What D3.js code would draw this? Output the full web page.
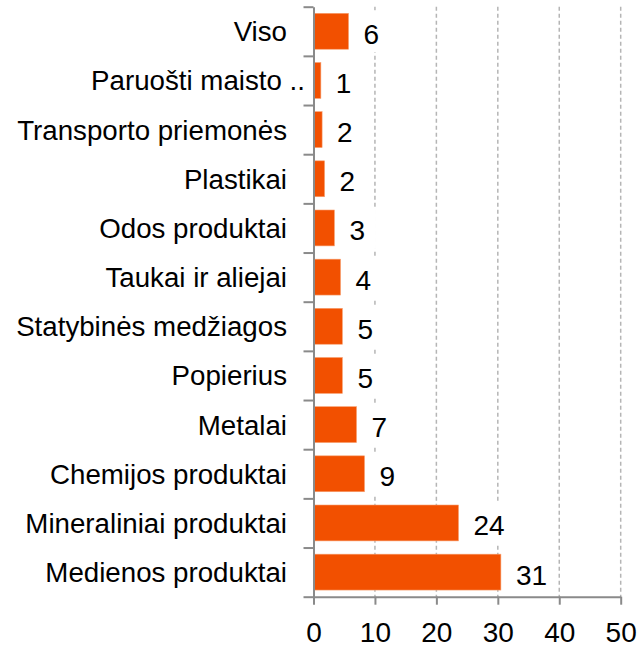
<!DOCTYPE html>
<html>
<head>
<meta charset="utf-8">
<script src="https://cdn.jsdelivr.net/npm/d3@7"></script>
<style>
  html, body { margin: 0; padding: 0; background: #fff; }
  svg { display: block; }
  text { font-family: "Liberation Sans", Arial, sans-serif; fill: #000; }
</style>
</head>
<body>
<svg id="chart" width="639" height="647"></svg>
<script>
const categories = [
  "Viso",
  "Paruošti maisto ..",
  "Transporto priemonės",
  "Plastikai",
  "Odos produktai",
  "Taukai ir aliejai",
  "Statybinės medžiagos",
  "Popierius",
  "Metalai",
  "Chemijos produktai",
  "Mineraliniai produktai",
  "Medienos produktai"
];
const values = [5.7, 1.2, 1.4, 1.8, 3.4, 4.4, 4.7, 4.7, 7.0, 8.3, 23.6, 30.5];
const valueLabels = ["6", "1", "2", "2", "3", "4", "5", "5", "7", "9", "24", "31"];
const xTicks = [0, 10, 20, 30, 40, 50];

(function () {
const svg = d3.select("#chart");
const fontSize = 27.7;
const valueFontSize = 28;
const plotLeft = 313.5, plotRight = 620.7, plotTop = 6.7, plotBottom = 596.7;
const axisColor = "#8a8a8a";
const gridColor = "#b5b5b5";
const barColor = "#F25000";

const x = d3.scaleLinear().domain([0, 50]).range([plotLeft, plotRight]);
const y = d3.scaleBand().domain(categories).range([plotTop, plotBottom])
  .paddingInner(0.27).paddingOuter(0.135);
const yIdx = d3.scaleLinear().domain([0, categories.length]).range([plotTop, plotBottom]);

// gridlines
svg.append("g").selectAll("line").data(xTicks.filter(d => d > 0)).join("line")
  .attr("x1", d => x(d)).attr("x2", d => x(d))
  .attr("y1", plotTop).attr("y2", plotBottom)
  .attr("stroke", gridColor).attr("stroke-width", 1.5)
  .attr("stroke-dasharray", "4,3");

// bars
svg.append("g").selectAll("rect").data(categories).join("rect")
  .attr("x", x(0))
  .attr("y", d => y(d))
  .attr("width", (d, i) => x(values[i]) - x(0))
  .attr("height", y.bandwidth())
  .attr("fill", barColor)
  .attr("stroke", "#f7a070").attr("stroke-width", 0.6);

// value labels with white background boxes
const lbl = svg.append("g");
categories.forEach((c, i) => {
  const cy = y(c) + y.bandwidth() / 2;
  const g = lbl.append("g");
  const t = g.append("text")
    .attr("x", x(values[i]) + 15)
    .attr("y", cy + 12.5)
    .attr("font-size", valueFontSize)
    .text(valueLabels[i]);
  const bb = t.node().getBBox();
  g.insert("rect", "text")
    .attr("x", bb.x - 11).attr("y", cy - 21)
    .attr("width", bb.width + 22).attr("height", 42)
    .attr("fill", "#fff");
});

// y axis (band boundaries)
const yAxis = svg.append("g").attr("transform", `translate(${plotLeft},0)`)
  .call(d3.axisLeft(yIdx).tickValues(d3.range(categories.length + 1))
    .tickFormat("").tickSize(10).tickSizeOuter(0));
yAxis.select(".domain").attr("stroke", axisColor).attr("stroke-width", 2);
yAxis.selectAll(".tick line").attr("stroke", axisColor).attr("stroke-width", 2);

// x axis
const xAxis = svg.append("g").attr("transform", `translate(0,${plotBottom})`)
  .call(d3.axisBottom(x).tickValues(xTicks).tickSize(8).tickSizeOuter(0).tickPadding(17.5));
xAxis.select(".domain").attr("stroke", axisColor).attr("stroke-width", 2);
xAxis.selectAll(".tick line").attr("stroke", axisColor).attr("stroke-width", 2);
xAxis.selectAll(".tick text")
  .attr("font-size", valueFontSize)
  .attr("font-family", '"Liberation Sans", Arial, sans-serif')
  .attr("fill", "#000");

// category labels
svg.append("g").selectAll("text").data(categories).join("text")
  .attr("x", d => d.endsWith("..") ? 305 : 287)
  .attr("y", d => y(d) + y.bandwidth() / 2 + 10)
  .attr("text-anchor", "end")
  .attr("font-size", fontSize)
  .text(d => d);
})();
</script>
</body>
</html>
